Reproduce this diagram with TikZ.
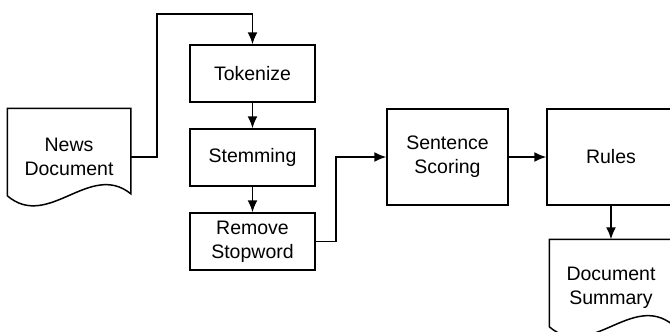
\documentclass[tikz,border=0pt]{standalone}
\usepackage{fontspec}
\setmainfont{Liberation Sans}
\usetikzlibrary{arrows.meta}

% document outline with a wavy bottom, drawn round a named node
\newcommand{\docshape}[1]{%
    \draw ([yshift=10pt]#1.south west) -- (#1.north west) -- (#1.north east)
        -- ([yshift=12pt]#1.south east)
        .. controls +(-41,-33) and +(41,35) .. ([yshift=10pt]#1.south west);}

\begin{document}
\begin{tikzpicture}[x=1pt, y=-1pt, node distance=84pt, line width=1.5pt, >={Latex[length=12pt,width=10pt]}]
    \tikzstyle{every node}=[font=\fontsize{19.5}{24}\selectfont, align=center]
    \tikzstyle{process}=[draw, minimum width=125pt, minimum height=57pt]
    \tikzstyle{block}=[draw, minimum width=122pt, minimum height=96pt]
    \tikzstyle{doc}=[minimum width=122pt, minimum height=96pt]

    \useasboundingbox (0,0) rectangle (670,332);
    \clip (0,0) rectangle (670,332);

    \node[doc] (news) at (69,157) {News\\Document};
    \node[process] (tok) at (252.5,73.5) {Tokenize};
    \node[process] (stem) [below of=tok] {Stemming};
    \node[process] (stop) [below of=stem] {Remove\\Stopword};
    \node[block, minimum width=121pt] (score) at (447.5,157) {Sentence\\Scoring};
    \node[block, minimum width=128pt] (rules) at (611,157) {Rules};
    \node[doc] (summ) at (611,288) {Document\\Summary};

    \docshape{news}
    \docshape{summ}

    \coordinate (up) at (157,14);
    \coordinate (mid) at (336,157);

    \draw[->] (news.east) -| (up) -| (tok.north);
    \draw[->] (tok) -- (stem);
    \draw[->] (stem) -- (stop);
    \draw[->] (stop.east) -| (mid) -- (score.west);
    \draw[->] (score) -- (rules);
    \draw[->] (rules.south) -- (summ.north);
\end{tikzpicture}
\end{document}
